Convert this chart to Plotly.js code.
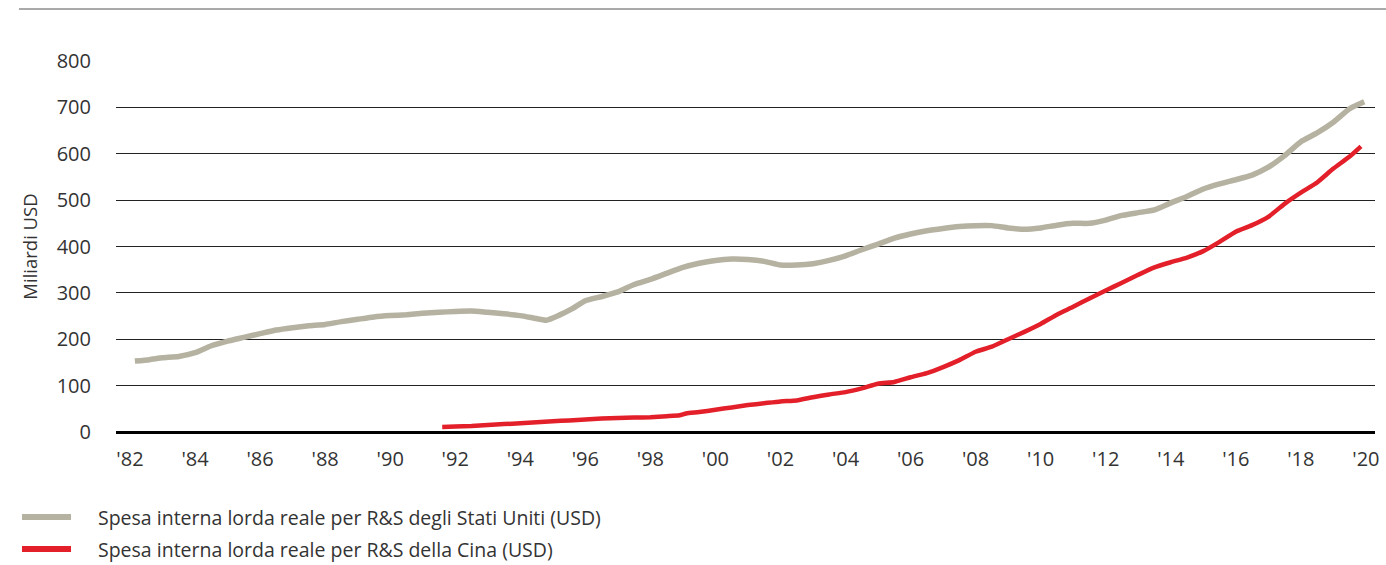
<!DOCTYPE html>
<html>
<head>
<meta charset="utf-8">
<script src="https://cdn.plot.ly/plotly-3.0.1.min.js"></script>
<style>
  html, body { margin: 0; padding: 0; background: #fff; }
  #chart { width: 1386px; height: 565px; }
</style>
</head>
<body>
<div id="chart"></div>
<script>
// Real gross domestic expenditure on R&D, billions of USD
const usYears = [1982.15, 1982.6, 1983.0, 1983.5, 1984.0, 1984.5, 1985.0, 1985.5, 1986.0, 1986.5,
  1987.0, 1987.5, 1988.0, 1988.5, 1989.0, 1989.5, 1990.0, 1990.5, 1991.0, 1991.5,
  1992.0, 1992.5, 1993.0, 1993.5, 1994.0, 1994.4, 1994.8, 1995.2, 1995.6, 1996.0,
  1996.5, 1997.0, 1997.5, 1998.0, 1998.5, 1999.0, 1999.5, 2000.0, 2000.5, 2001.0,
  2001.5, 2002.0, 2002.5, 2003.0, 2003.5, 2004.0, 2004.5, 2005.0, 2005.5, 2006.0,
  2006.5, 2007.0, 2007.5, 2008.0, 2008.5, 2009.0, 2009.5, 2010.0, 2010.5, 2011.0,
  2011.5, 2012.0, 2012.5, 2013.0, 2013.5, 2014.0, 2014.5, 2015.0, 2015.5, 2016.0,
  2016.5, 2017.0, 2017.5, 2018.0, 2018.5, 2019.0, 2019.5, 2019.95];
const usValues = [153, 156, 160, 163, 171, 186, 196, 204, 212, 220,
  225, 229, 232, 238, 243, 248, 251, 253, 256, 258,
  260, 261, 258, 255, 251, 246, 241, 252, 266, 283,
  292, 302, 318, 329, 342, 355, 364, 370, 373, 372,
  368, 360, 360, 363, 370, 380, 393, 405, 418, 427,
  434, 439, 443, 445, 445, 440, 437, 440, 446, 450,
  450, 457, 467, 473, 479, 494, 508, 524, 535, 544,
  554, 571, 596, 626, 645, 668, 697, 712];

const cnYears = [1991.6, 1992.0, 1992.5, 1993.0, 1993.5, 1994.0, 1994.5, 1995.0, 1995.5, 1996.0,
  1996.5, 1997.0, 1997.5, 1998.0, 1998.5, 1998.9, 1999.1, 1999.5, 2000.0, 2000.5,
  2001.0, 2001.5, 2002.0, 2002.5, 2003.0, 2003.5, 2004.0, 2004.5, 2005.0, 2005.5,
  2006.0, 2006.5, 2007.0, 2007.5, 2008.0, 2008.5, 2009.0, 2009.5, 2010.0, 2010.5,
  2011.0, 2011.5, 2012.0, 2012.5, 2013.0, 2013.5, 2014.0, 2014.5, 2015.0, 2015.5,
  2016.0, 2016.5, 2017.0, 2017.5, 2018.0, 2018.5, 2019.0, 2019.5, 2019.85];
const cnValues = [11, 12, 13, 15, 17, 19, 21, 23, 25, 27,
  29, 30, 31, 32, 34, 36, 40, 43, 48, 53,
  58, 62, 66, 68, 75, 81, 86, 94, 104, 108,
  118, 127, 140, 155, 173, 184, 200, 216, 233, 253,
  270, 288, 305, 322, 339, 355, 366, 376, 390, 410,
  432, 446, 464, 492, 516, 538, 568, 594, 616];

const tickYears = [1982, 1984, 1986, 1988, 1990, 1992, 1994, 1996, 1998, 2000,
  2002, 2004, 2006, 2008, 2010, 2012, 2014, 2016, 2018, 2020];
const tickLabels = ["'82", "'84", "'86", "'88", "'90", "'92", "'94", "'96", "'98", "'00",
  "'02", "'04", "'06", "'08", "'10", "'12", "'14", "'16", "'18", "'20"];
const yTicks = [0, 100, 200, 300, 400, 500, 600, 700, 800];

const seriesNames = [
  'Spesa interna lorda reale per R&S degli Stati Uniti (USD)',
  'Spesa interna lorda reale per R&S della Cina (USD)'
];
const usColor = '#b5b2a1';
const cnColor = '#e3202a';
const textColor = '#333333';
const fontFamily = '"Open Sans", "Noto Sans", sans-serif';

const traces = [
  {
    x: usYears, y: usValues, type: 'scatter', mode: 'lines',
    name: seriesNames[0], showlegend: false,
    line: { color: usColor, width: 5.5, shape: 'spline', smoothing: 0.5 },
    hoverinfo: 'skip'
  },
  {
    x: cnYears, y: cnValues, type: 'scatter', mode: 'lines',
    name: seriesNames[1], showlegend: false,
    line: { color: cnColor, width: 4.5, shape: 'spline', smoothing: 0.5 },
    hoverinfo: 'skip'
  }
];

// plot box in pixels, used to place the rule and the legend in paper units
const W = 1386, H = 565;
const plotL = 116, plotR = 1375, plotT = 61, plotB = 432;
const px = x => (x - plotL) / (plotR - plotL);
const py = y => (plotB - y) / (plotB - plotT);

// legend drawn as swatches + labels under the plot
const legendRows = [
  { y: 517, color: usColor, text: seriesNames[0] },
  { y: 549, color: cnColor, text: seriesNames[1] }
];
const shapes = [
  // thin rule along the top
  { type: 'line', xref: 'paper', yref: 'paper',
    x0: px(19), x1: px(W), y0: py(9), y1: py(9),
    line: { color: '#555555', width: 1 } }
];
const annotations = [];
legendRows.forEach(r => {
  shapes.push({ type: 'line', xref: 'paper', yref: 'paper',
    x0: px(22), x1: px(71), y0: py(r.y), y1: py(r.y),
    line: { color: r.color, width: 6 } });
  annotations.push({ xref: 'paper', yref: 'paper',
    x: px(96), y: py(r.y), xanchor: 'left', yanchor: 'middle',
    text: r.text, showarrow: false,
    font: { family: fontFamily, size: 19.5, color: textColor } });
});

const layout = {
  width: W, height: H,
  margin: { l: plotL, r: W - plotR, t: plotT, b: H - plotB },
  paper_bgcolor: '#ffffff', plot_bgcolor: '#ffffff',
  font: { family: fontFamily, color: textColor },
  xaxis: {
    range: [1981.57, 2020.28],
    tickvals: tickYears, ticktext: tickLabels,
    showgrid: false, zeroline: false, showline: false, ticks: '',
    ticklabelstandoff: 13,
    tickfont: { family: fontFamily, size: 20, color: textColor }
  },
  yaxis: {
    range: [0, 800],
    tickvals: yTicks,
    showgrid: true, gridcolor: '#222222', gridwidth: 1,
    zeroline: true, zerolinecolor: '#000000', zerolinewidth: 3,
    showline: false, ticks: '',
    ticklabelstandoff: 24,
    tickfont: { family: fontFamily, size: 20, color: textColor },
    title: { text: 'Miliardi USD', standoff: 14,
      font: { family: fontFamily, size: 18.5, color: textColor } }
  },
  shapes: shapes,
  annotations: annotations
};

Plotly.newPlot('chart', traces, layout, { staticPlot: true, displayModeBar: false });
</script>
</body>
</html>
